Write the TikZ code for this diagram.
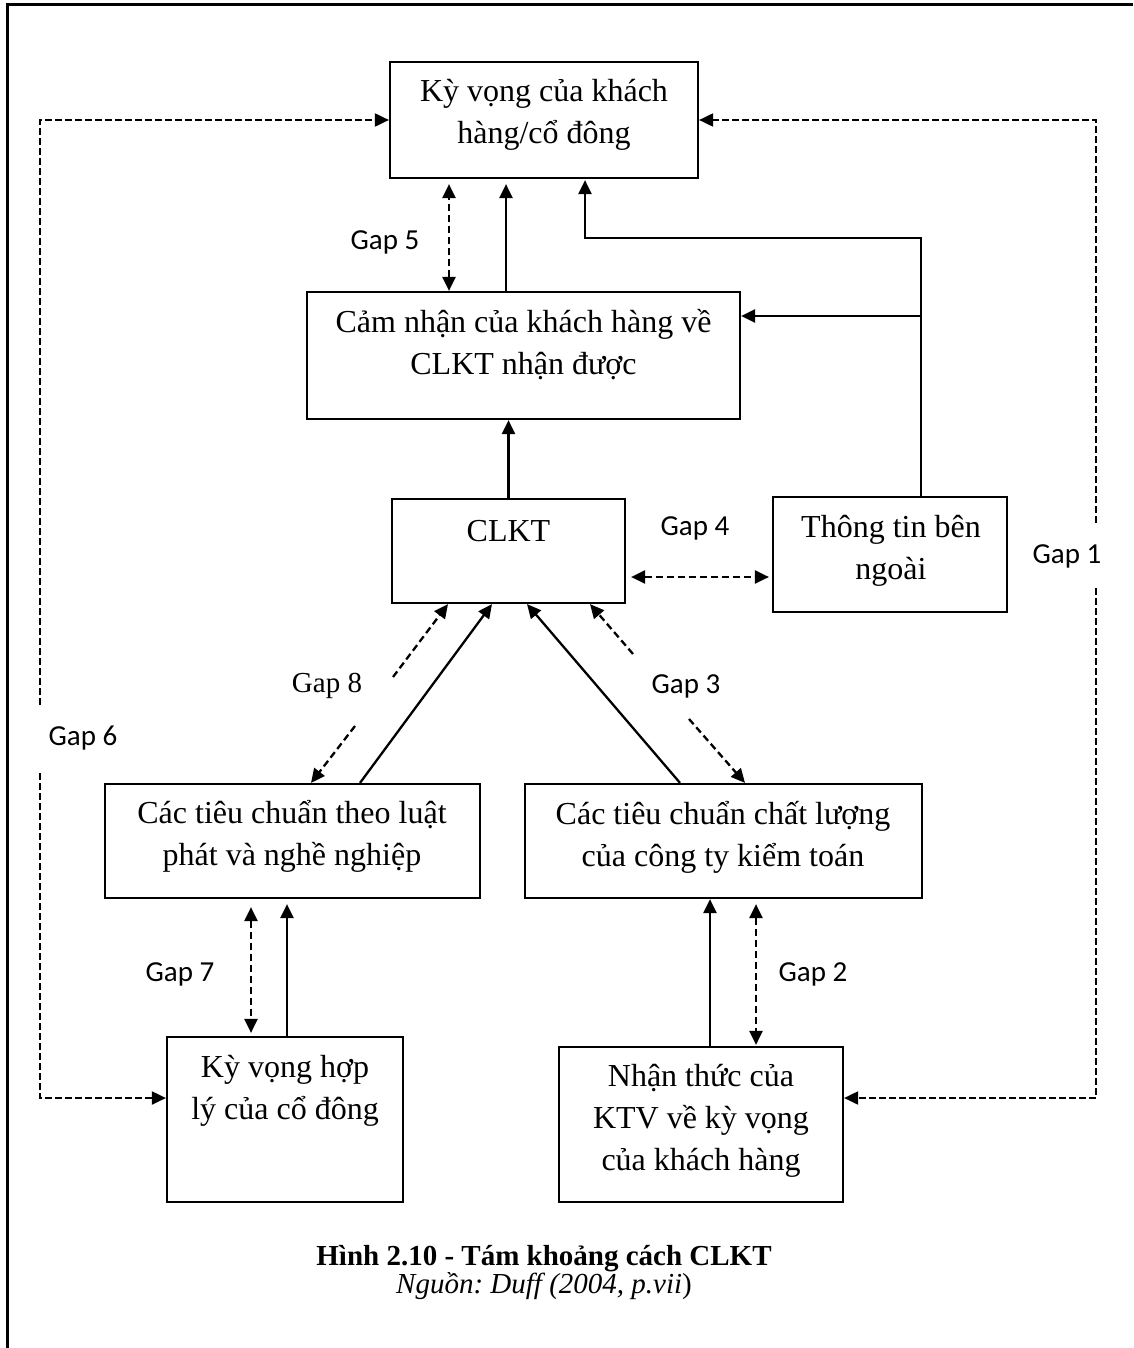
\documentclass[tikz,border=0pt]{standalone}
\usepackage{fontspec}
\setmainfont{Liberation Serif}
\newfontfamily\gapfont{Carlito}
\usetikzlibrary{arrows.meta}
\frenchspacing
\begin{document}
\begin{tikzpicture}[x=1pt,y=-1pt,
  box/.style={draw, line width=2.2pt, inner sep=0pt},
  txt/.style={inner sep=0pt, align=center, font=\fontsize{32}{42}\selectfont},
  gaplbl/.style={inner sep=0pt, anchor=base, font=\gapfont\fontsize{29}{33}\selectfont},
  sarrow/.style={line width=2.3pt, -{Triangle[length=14pt,width=13pt]}},
  darrow/.style={line width=2.3pt, dash pattern=on 7pt off 4pt, -{Triangle[length=14pt,width=13pt]}},
  ddarrow/.style={line width=2.3pt, dash pattern=on 7pt off 4pt, {Triangle[length=14pt,width=13pt]}-{Triangle[length=14pt,width=13pt]}},
  outer/.style={line width=2pt, dash pattern=on 7pt off 3pt, -{Triangle[length=14pt,width=13pt]}},
  captxt/.style={inner sep=0pt, anchor=base}]
\useasboundingbox (0,0) rectangle (1133,1348);
% frame
\draw[line width=3pt] (7,1348) -- (7,5) -- (1133,5);

% boxes
\node[box, minimum width=308, minimum height=116] (b1) at (544,120) {};
\node[box, minimum width=433, minimum height=127] (b2) at (523.5,355.5) {};
\node[box, minimum width=233, minimum height=104] (b3) at (508.5,551) {};
\node[box, minimum width=234, minimum height=115] (b4) at (890,554.5) {};
\node[box, minimum width=375, minimum height=114] (b5) at (292.5,841) {};
\node[box, minimum width=397, minimum height=114] (b6) at (723.5,841) {};
\node[box, minimum width=236, minimum height=165] (b7) at (285,1119.5) {};
\node[box, minimum width=284, minimum height=155] (b8) at (701,1124.5) {};

% box texts
\node[txt] (t1) at (544,114) {\strut Kỳ vọng của khách\\\strut hàng/cổ đông};
\node[txt] (t2) at (523.5,344.6) {\strut Cảm nhận của khách hàng về\\\strut CLKT nhận được};
\node[txt] (t3) at (508.5,532.6) {\strut CLKT};
\node[txt] (t4) at (891,550) {\strut Thông tin bên\\\strut ngoài};
\node[txt] (t5) at (292,836) {\strut Các tiêu chuẩn theo luật\\\strut phát và nghề nghiệp};
\node[txt] (t6) at (723,836.6) {\strut Các tiêu chuẩn chất lượng\\\strut của công ty kiểm toán};
\node[txt] (t7) at (285,1089.6) {\strut Kỳ vọng hợp\\\strut lý của cổ đông};
\node[txt] (t8) at (701,1119.6) {\strut Nhận thức của\\\strut KTV về kỳ vọng\\\strut của khách hàng};

% guide coordinates
\coordinate (g5x) at (449,0);
\coordinate (m1x) at (506,0);
\coordinate (j1) at (585,238);
\coordinate (j2) at (921,316);
\coordinate (g4y) at (0,577);
\coordinate (g8a) at (393,677);
\coordinate (g8b) at (355,726);
\coordinate (g3a) at (633,654);
\coordinate (g3b) at (689,719);
\coordinate (g7x) at (251,0);
\coordinate (m7x) at (287,0);
\coordinate (m8x) at (710,0);
\coordinate (g2x) at (756,0);
\coordinate (g6a) at (40,705);
\coordinate (g6b) at (40,773);
\coordinate (g1a) at (1096,523);
\coordinate (g1b) at (1096,588);
\coordinate (lowy) at (0,1098);

% connectors top
\draw[ddarrow, shorten >=5pt] (b2.north -| g5x) -- (b1.south -| g5x);
\draw[sarrow, shorten >=5pt] (b2.north -| m1x) -- (b1.south -| m1x);
\draw[sarrow, shorten >=1pt] ([xshift=31pt]b4.north) |- (j1) -- (b1.south -| j1);
\draw[sarrow] (j2) -- (b2.east |- j2);
\draw[sarrow] (b3.north) -- (b3.north |- b2.south);
\draw[ddarrow, shorten <=5pt, shorten >=3pt] (b3.east |- g4y) -- (b4.west |- g4y);

% diagonals
\draw[sarrow] ([xshift=67.5pt]b5.north) -- ([xshift=-16.5pt]b3.south);
\draw[sarrow] ([xshift=-43.5pt]b6.north) -- ([xshift=18.5pt]b3.south);
\draw[darrow] (g8a) -- ([xshift=-60.5pt]b3.south);
\draw[darrow] (g8b) -- ([xshift=18.5pt]b5.north);
\draw[darrow] (g3a) -- ([xshift=81.5pt]b3.south);
\draw[darrow] (g3b) -- ([xshift=21.5pt]b6.north);

% lower verticals
\draw[ddarrow, shorten <=8pt, shorten >=3pt] (b5.south -| g7x) -- (b7.north -| g7x);
\draw[sarrow, shorten >=5pt] (b7.north -| m7x) -- (b5.south -| m7x);
\draw[sarrow] (b8.north -| m8x) -- (b6.south -| m8x);
\draw[ddarrow, shorten <=5pt, shorten >=1pt] (b6.south -| g2x) -- (b8.north -| g2x);

% outer loops
\draw[outer] (g6a) |- (b1.west);
\draw[outer] (g6b) |- (b7.west |- lowy);
\draw[outer] (g1a) |- (b1.east);
\draw[outer] (g1b) |- (b8.east |- lowy);

% gap labels
\node[gaplbl] (l1) at (1067,563) {Gap 1};
\node[gaplbl] (l2) at (813,981) {Gap 2};
\node[gaplbl] (l3) at (686,693) {Gap 3};
\node[gaplbl] (l4) at (695,535) {Gap 4};
\node[gaplbl] (l5) at (385,250) {Gap 5};
\node[gaplbl] (l6) at (83,745) {Gap 6};
\node[gaplbl] (l7) at (180,981) {Gap 7};
\node[gaplbl, font=\fontsize{29}{33}\selectfont] (l8) at (327,692) {Gap 8};

% caption
\node[captxt, font=\bfseries\fontsize{29}{34}\selectfont] (cap) at (544,1265) {Hình 2.10 - Tám khoảng cách CLKT};
\node[captxt, font=\itshape\fontsize{29}{34}\selectfont] (src) at (544,1293) {Nguồn: Duff (2004, p.vii\/\upshape)};
\end{tikzpicture}
\end{document}
